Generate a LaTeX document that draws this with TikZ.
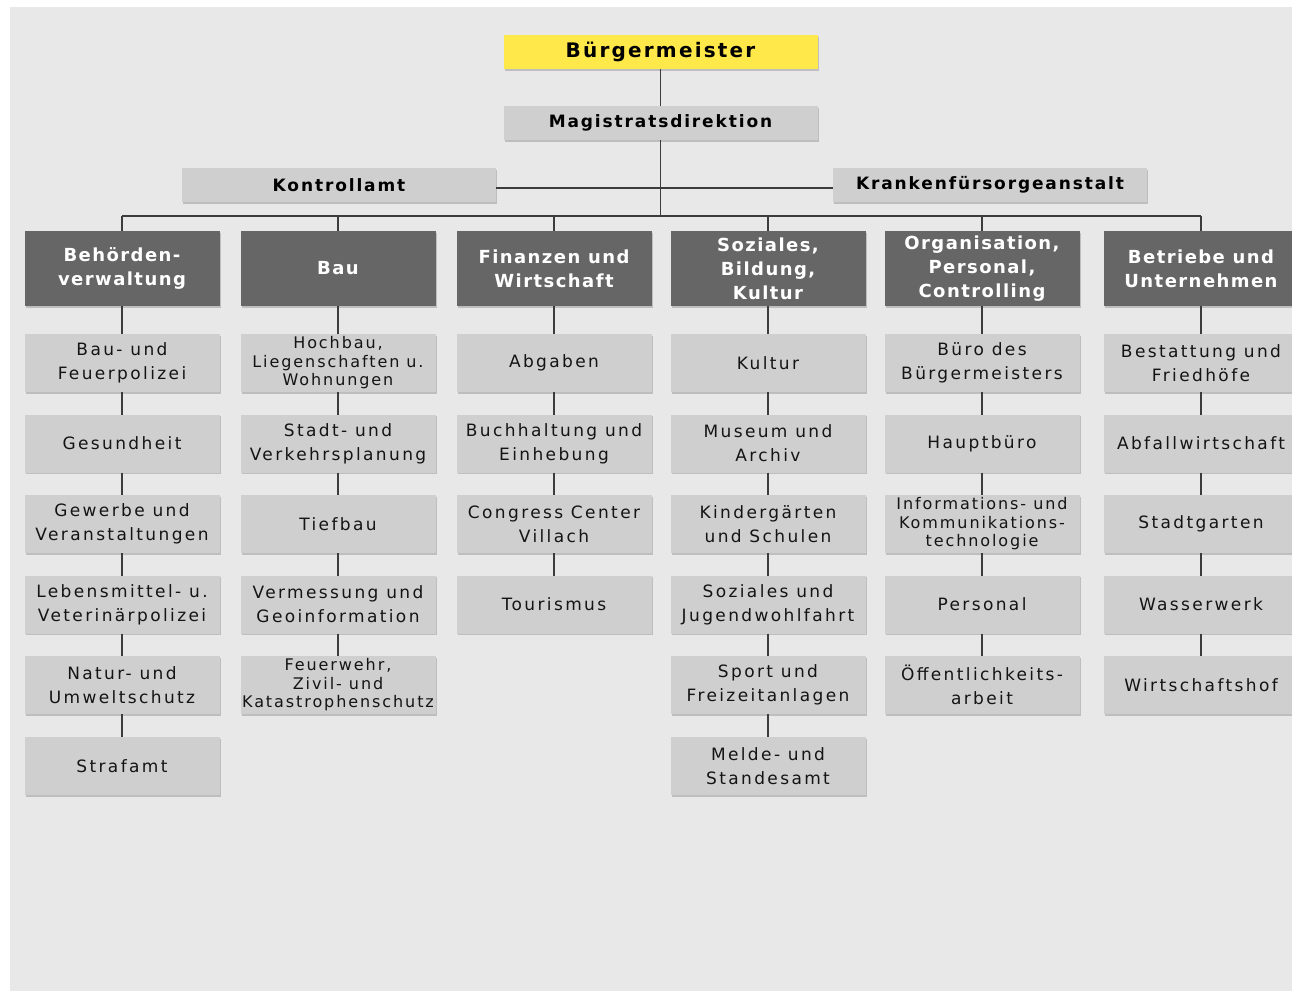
\documentclass[tikz,border=0pt]{standalone}
\usepackage{fontspec}
\setmainfont{DejaVu Sans}
\newfontfamily\subfont[LetterSpace=14]{DejaVu Sans}
\newfontfamily\tightfont[LetterSpace=12]{DejaVu Sans}
\newfontfamily\headfont[LetterSpace=11]{DejaVu Sans}
\newfontfamily\deptfont[LetterSpace=8]{DejaVu Sans}
\usetikzlibrary{shadows}
\definecolor{bgc}{HTML}{E8E8E8}
\definecolor{subgray}{HTML}{CFCFCF}
\definecolor{deptgray}{HTML}{666666}
\definecolor{yellowc}{HTML}{FFE84A}
\definecolor{linec}{HTML}{3C3C3C}
\definecolor{textc}{HTML}{141414}
\tikzset{
  box/.style={rectangle, inner sep=0pt, outer sep=0pt, align=center,
    general shadow={fill=black, opacity=0.18, shadow xshift=1.3pt, shadow yshift=-1.8pt}},
  subbox/.style={box, fill=subgray, minimum width=195pt, minimum height=58pt,
    text=textc, font=\subfont\fontsize{17}{24}\selectfont},
  tightbox/.style={subbox, font=\tightfont\fontsize{16}{18.5}\selectfont},
  deptbox/.style={box, fill=deptgray, minimum width=195pt, minimum height=75pt,
    text=white, font=\deptfont\bfseries\fontsize{18}{24}\selectfont},
  topbox/.style={box, fill=subgray, minimum width=314pt, minimum height=34pt,
    text=black, font=\headfont\bfseries\fontsize{17}{20}\selectfont},
  link/.style={draw=linec, line width=1.5pt}
}
\begin{document}
\begin{tikzpicture}[x=1pt,y=-1pt]
\useasboundingbox (0,0) rectangle (1292,992);
\clip (0,0) rectangle (1292,992);
\fill[white] (0,0) rectangle (1292,992);
\fill[bgc] (10,7) rectangle (1292,991);

% top boxes
\node[topbox, fill=yellowc, font=\headfont\bfseries\fontsize{20}{22}\selectfont] (bm) at (660.5,52) {Bürgermeister};
\node[topbox] (md) at (660.5,123) {Magistratsdirektion};
\node[topbox] (ka) at (339,185) {Kontrollamt};
\node[topbox] (kf) at (990,185) {Krankenfürsorgeanstalt};

% bus coordinates
\coordinate (busc) at (660.5,216);
\coordinate (b1) at (122,216);
\coordinate (b2) at (338,216);
\coordinate (b3) at (554,216);
\coordinate (b4) at (768,216);
\coordinate (b5) at (982,216);
\coordinate (b6) at (1201,216);

% department boxes
\node[deptbox] (d1) at (122,268.5) {Behörden-\\verwaltung};
\node[deptbox] (d2) at (338,268.5) {Bau};
\node[deptbox] (d3) at (554,268.5) {Finanzen und\\Wirtschaft};
\node[deptbox] (d4) at (768,268.5) {Soziales,\\Bildung,\\Kultur};
\node[deptbox] (d5) at (982,268.5) {Organisation,\\Personal,\\Controlling};
\node[deptbox] (d6) at (1201,268.5) {Betriebe und\\Unternehmen};

% column 1
\node[subbox] (s11) at (122,363) {Bau- und\\Feuerpolizei};
\node[subbox] (s12) at (122,443.5) {Gesundheit};
\node[subbox] (s13) at (122,524) {Gewerbe und\\Veranstaltungen};
\node[subbox] (s14) at (122,604.5) {Lebensmittel- u.\\Veterinärpolizei};
\node[subbox] (s15) at (122,685) {Natur- und\\Umweltschutz};
\node[subbox] (s16) at (122,766) {Strafamt};

% column 2
\node[tightbox] (s21) at (338,363) {Hochbau,\\Liegenschaften u.\\Wohnungen};
\node[subbox] (s22) at (338,443.5) {Stadt- und\\Verkehrsplanung};
\node[subbox] (s23) at (338,524) {Tiefbau};
\node[subbox] (s24) at (338,604.5) {Vermessung und\\Geoinformation};
\node[tightbox] (s25) at (338,685) {Feuerwehr,\\Zivil- und\\Katastrophenschutz};

% column 3
\node[subbox] (s31) at (554,363) {Abgaben};
\node[subbox] (s32) at (554,443.5) {Buchhaltung und\\Einhebung};
\node[subbox] (s33) at (554,524) {Congress Center\\Villach};
\node[subbox] (s34) at (554,604.5) {Tourismus};

% column 4
\node[subbox] (s41) at (768,363) {Kultur};
\node[subbox] (s42) at (768,443.5) {Museum und\\Archiv};
\node[subbox] (s43) at (768,524) {Kindergärten\\und Schulen};
\node[subbox] (s44) at (768,604.5) {Soziales und\\Jugendwohlfahrt};
\node[subbox] (s45) at (768,685) {Sport und\\Freizeitanlagen};
\node[subbox] (s46) at (768,766) {Melde- und\\Standesamt};

% column 5
\node[subbox] (s51) at (982,363) {Büro des\\Bürgermeisters};
\node[subbox] (s52) at (982,443.5) {Hauptbüro};
\node[tightbox] (s53) at (982,524) {Informations- und\\Kommunikations-\\technologie};
\node[subbox] (s54) at (982,604.5) {Personal};
\node[subbox] (s55) at (982,685) {Öffentlichkeits-\\arbeit};

% column 6
\node[subbox] (s61) at (1201,363) {Bestattung und\\Friedhöfe};
\node[subbox] (s62) at (1201,443.5) {Abfallwirtschaft};
\node[subbox] (s63) at (1201,524) {Stadtgarten};
\node[subbox] (s64) at (1201,604.5) {Wasserwerk};
\node[subbox] (s65) at (1201,685) {Wirtschaftshof};

% connectors
\draw[link] (bm.south) -- (md.north);
\draw[link] (md.south) -- (busc);
\draw[link] ([yshift=-3pt]ka.east) -- ([yshift=-3pt]kf.west);
\draw[link] (b1) -- (b6);
\foreach \i in {1,...,6} { \draw[link] (b\i) -- (d\i.north); }
\foreach \a/\b in {d1/s11,s11/s12,s12/s13,s13/s14,s14/s15,s15/s16,
                   d2/s21,s21/s22,s22/s23,s23/s24,s24/s25,
                   d3/s31,s31/s32,s32/s33,s33/s34,
                   d4/s41,s41/s42,s42/s43,s43/s44,s44/s45,s45/s46,
                   d5/s51,s51/s52,s52/s53,s53/s54,s54/s55,
                   d6/s61,s61/s62,s62/s63,s63/s64,s64/s65}
  { \draw[link] (\a.south) -- (\b.north); }
\end{tikzpicture}
\end{document}
